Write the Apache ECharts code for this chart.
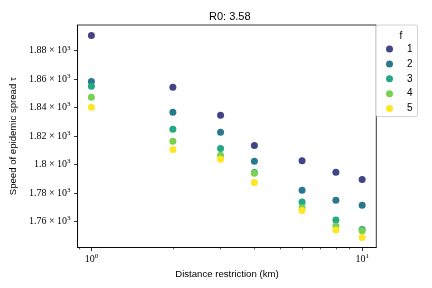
<!DOCTYPE html>
<html><head><meta charset="utf-8">
<script src="https://cdn.jsdelivr.net/npm/echarts@6/dist/echarts.min.js"></script>
<style>html,body{margin:0;padding:0;background:#fff}#c{width:432px;height:288px}</style>
</head><body><div id="c"></div>
<script>
const distances = [1, 2, 3, 4, 6, 8, 10];
const f1 = [1890.8, 1854.3, 1834.6, 1813.3, 1802.6, 1794.5, 1789.5];
const f2 = [1858.3, 1836.7, 1822.6, 1802.2, 1781.8, 1774.8, 1771.3];
const f3 = [1855.0, 1824.7, 1811.3, 1794.3, 1773.6, 1760.9, 1754.2];
const f4 = [1847.2, 1816.3, 1806.4, 1793.8, 1769.6, 1756.7, 1753.3];
const f5 = [1840.2, 1810.6, 1803.6, 1787.4, 1767.7, 1753.9, 1748.7];
const fLabels = ['1', '2', '3', '4', '5'];
const colors = ['#414487', '#2a788e', '#22a884', '#7ad151', '#fde725'];
const yTicks = [1760, 1780, 1800, 1820, 1840, 1860, 1880];
const xMajorTicks = [1, 10];
const xMinorTicks = [0.9, 2, 3, 4, 5, 6, 7, 8, 9];

const seriesValues = [f1, f2, f3, f4, f5];
const sans = 'Liberation Sans';
const serif = 'Liberation Serif';

const chart = echarts.init(document.getElementById('c'), null, {renderer: 'canvas'});
chart.setOption({
  animation: false,
  title: [
    {text: 'R0: 3.58', left: 224.8, top: 6, textAlign: 'center',
     textStyle: {fontFamily: sans, fontSize: 11, fontWeight: 'normal', color: '#000'}},
    {text: 'f', left: 396, top: 26, textAlign: 'center',
     textStyle: {fontFamily: sans, fontSize: 10, fontWeight: 'normal', color: '#000'}}
  ],
  grid: {left: 73.3, right: 55.7, top: 25, bottom: 40.5, show: true,
         borderColor: '#000', borderWidth: 0.8, backgroundColor: 'transparent'},
  legend: {
    orient: 'vertical', left: 376, top: 25,
    padding: [19, 5, 3, 10], itemGap: 4.9,
    itemWidth: 7, itemHeight: 7, icon: 'circle',
    borderColor: '#d0d0d0', borderWidth: 1, borderRadius: 2, backgroundColor: '#fff',
    data: fLabels,
    textStyle: {fontFamily: sans, fontSize: 10, color: '#000', lineHeight: 10, padding: [0, 0, 0, 9]}
  },
  xAxis: [
    {type: 'log', logBase: 10, min: 0.889, max: 11.28,
     name: 'Distance restriction (km)', nameLocation: 'middle', nameGap: 18,
     nameTextStyle: {fontFamily: sans, fontSize: 9.6, color: '#000'},
     axisLine: {show: true, lineStyle: {color: '#000', width: 0.8}},
     axisTick: {show: true, length: 3.5, lineStyle: {color: '#000', width: 0.8}, customValues: xMajorTicks},
     splitLine: {show: false},
     axisLabel: {customValues: xMajorTicks, margin: 5, color: '#000',
       formatter: v => '{a|10}{s|' + Math.round(Math.log10(v)) + '}',
       rich: {a: {fontFamily: serif, fontSize: 10, color: '#000'},
              s: {fontFamily: serif, fontSize: 7, color: '#000', padding: [0, 0, 6, 0]}}}},
    {type: 'log', logBase: 10, min: 0.889, max: 11.28, position: 'bottom',
     axisLine: {show: false}, splitLine: {show: false},
     axisTick: {show: true, length: 2, lineStyle: {color: '#000', width: 0.6}, customValues: xMinorTicks},
     axisLabel: {show: false, customValues: xMinorTicks}}
  ],
  yAxis: {
    type: 'value', min: 1741.6, max: 1898.1,
    name: 'Speed of epidemic spread τ', nameLocation: 'middle', nameGap: 54,
    nameTextStyle: {fontFamily: sans, fontSize: 9.6, color: '#000'},
    axisLine: {show: true, lineStyle: {color: '#000', width: 0.8}},
    axisTick: {show: true, length: 3.5, lineStyle: {color: '#000', width: 0.8}, customValues: yTicks},
    splitLine: {show: false},
    axisLabel: {customValues: yTicks, margin: 7, color: '#000',
      formatter: v => '{a|' + (+(v / 1000).toFixed(2)) + ' × 10}{s|3}',
      rich: {a: {fontFamily: serif, fontSize: 10, color: '#000'},
             s: {fontFamily: serif, fontSize: 7, color: '#000', padding: [0, 0, 6, 0]}}}
  },
  series: seriesValues.map((vals, i) => ({
    type: 'scatter', name: fLabels[i], xAxisIndex: 0,
    data: distances.map((d, j) => [d, vals[j]]),
    symbol: 'circle', symbolSize: 7,
    itemStyle: {color: colors[i], opacity: 1},
    emphasis: {disabled: true}
  }))
});
</script></body></html>
